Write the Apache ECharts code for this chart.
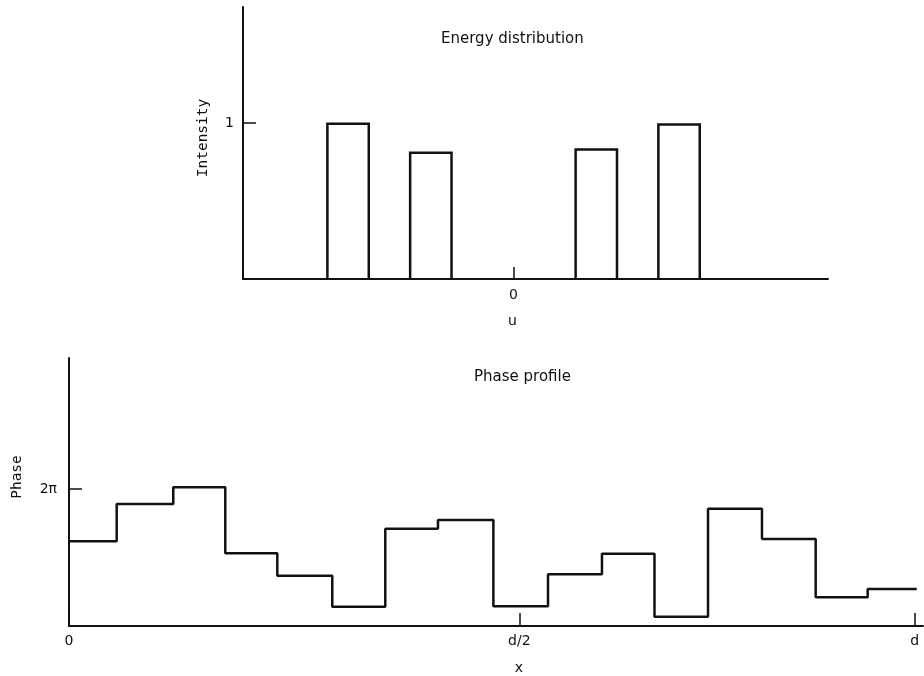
<!DOCTYPE html>
<html>
<head>
<meta charset="utf-8">
<script src="https://cdn.jsdelivr.net/npm/echarts@6/dist/echarts.min.js"></script>
<style>html,body{margin:0;padding:0;background:#fff}#c{width:924px;height:676px}</style>
</head>
<body>
<div id="c"></div>
<script>
// ---- Energy distribution (top) ----
const orderPositions = [-2, -1, 1, 2];          // u positions of the bars
const intensityValues = [0.995, 0.81, 0.83, 0.99];
const barHalfWidth = 0.25;                       // in u units
const uTickValues = [0];
const uTickLabels = ['0'];
const intensityTickValues = [1];
const intensityTickLabels = ['1'];

// ---- Phase profile (bottom) ----
const phaseEdges = [0, 0.0564, 0.1233, 0.1848, 0.2463, 0.3113, 0.3740, 0.4363, 0.5018,
                    0.5664, 0.6302, 0.6923, 0.7556, 0.8194, 0.8829, 0.9444, 1.0024];
const phaseValues = [0.618, 0.891, 1.012, 0.531, 0.367, 0.141, 0.710, 0.774,
                     0.144, 0.377, 0.528, 0.068, 0.856, 0.635, 0.209, 0.270]; // in units of 2π
const xTickValues = [0, 0.5325, 1];
const xTickLabels = ['0', 'd/2', 'd'];
const phaseTickValues = [1];
const phaseTickLabels = ['2π'];

const barData = orderPositions.map((u, i) => [u, intensityValues[i]]);
const stepData = phaseEdges.map((x, i) => [x, phaseValues[Math.min(i, phaseValues.length - 1)]]);

function labelFrom(values, labels) {
  return v => {
    for (let i = 0; i < values.length; i++) if (Math.abs(values[i] - v) < 1e-6) return labels[i];
    return '';
  };
}

const black = '#111';
const labelFont = {color: black, fontFamily: 'DejaVu Sans', fontSize: 14};
const nameFont = {color: black, fontFamily: 'DejaVu Sans Mono', fontSize: 14.5};

const chart = echarts.init(document.getElementById('c'), null, {renderer: 'canvas'});
chart.setOption({
  backgroundColor: '#fff',
  animation: false,
  title: [
    {text: 'Energy distribution', left: 436, top: 27,
     textStyle: {color: black, fontFamily: 'DejaVu Sans', fontSize: 15, fontWeight: 'normal'}},
    {text: 'Phase profile', left: 469, top: 365,
     textStyle: {color: black, fontFamily: 'DejaVu Sans', fontSize: 15, fontWeight: 'normal'}}
  ],
  grid: [
    {left: 243, right: 96, top: 7, height: 272},
    {left: 69, right: 1, top: 358, height: 268}
  ],
  xAxis: [
    {type: 'value', gridIndex: 0, min: -3.27, max: 3.8,
     name: 'u', nameLocation: 'middle', nameGap: 35,
     nameTextStyle: Object.assign({}, labelFont, {padding: [0, 46, 0, 0]}),
     axisLine: {onZero: false, lineStyle: {color: black, width: 2}},
     axisTick: {inside: true, length: 12, customValues: uTickValues, lineStyle: {color: black, width: 1.5}},
     axisLabel: Object.assign({customValues: uTickValues, margin: 9, formatter: labelFrom(uTickValues, uTickLabels)}, labelFont),
     splitLine: {show: false}},
    {type: 'value', gridIndex: 1, min: 0, max: 1.0098,
     name: 'x', nameLocation: 'middle', nameGap: 35,
     nameTextStyle: Object.assign({}, labelFont, {padding: [0, 0, 0, 46]}),
     axisLine: {onZero: false, lineStyle: {color: black, width: 2}},
     axisTick: {inside: true, length: 13, customValues: xTickValues, lineStyle: {color: black, width: 1.5}},
     axisLabel: Object.assign({customValues: xTickValues, margin: 8, formatter: labelFrom(xTickValues, xTickLabels)}, labelFont),
     splitLine: {show: false}}
  ],
  yAxis: [
    {type: 'value', gridIndex: 0, min: 0, max: 1.744,
     name: 'Intensity', nameLocation: 'middle', nameGap: 32,
     nameTextStyle: Object.assign({}, nameFont, {padding: [0, 0, 0, 10]}),
     axisLine: {onZero: false, lineStyle: {color: black, width: 2}},
     axisTick: {inside: true, length: 13, customValues: intensityTickValues, lineStyle: {color: black, width: 1.5}},
     axisLabel: Object.assign({customValues: intensityTickValues, margin: 9, formatter: labelFrom(intensityTickValues, intensityTickLabels)}, labelFont),
     splitLine: {show: false}},
    {type: 'value', gridIndex: 1, min: 0, max: 1.956,
     name: 'Phase', nameLocation: 'middle', nameGap: 44,
     nameTextStyle: Object.assign({}, nameFont, {padding: [0, 0, 0, 30]}),
     axisLine: {onZero: false, lineStyle: {color: black, width: 2}},
     axisTick: {inside: true, length: 13, customValues: phaseTickValues, lineStyle: {color: black, width: 1.5}},
     axisLabel: Object.assign({customValues: phaseTickValues, margin: 12, formatter: labelFrom(phaseTickValues, phaseTickLabels)}, labelFont),
     splitLine: {show: false}}
  ],
  series: [
    {type: 'custom', xAxisIndex: 0, yAxisIndex: 0, data: barData,
     renderItem: function (params, api) {
       const u = api.value(0), h = api.value(1);
       const p0 = api.coord([u - barHalfWidth, 0]);
       const p1 = api.coord([u + barHalfWidth, h]);
       return {type: 'polyline',
               shape: {points: [[p0[0], p0[1]], [p0[0], p1[1]], [p1[0], p1[1]], [p1[0], p0[1]]]},
               style: {fill: 'none', stroke: black, lineWidth: 2.5}};
     }},
    {type: 'line', xAxisIndex: 1, yAxisIndex: 1, data: stepData, step: 'end',
     showSymbol: false, symbol: 'none',
     lineStyle: {color: black, width: 2.5}}
  ]
});
</script>
</body>
</html>
